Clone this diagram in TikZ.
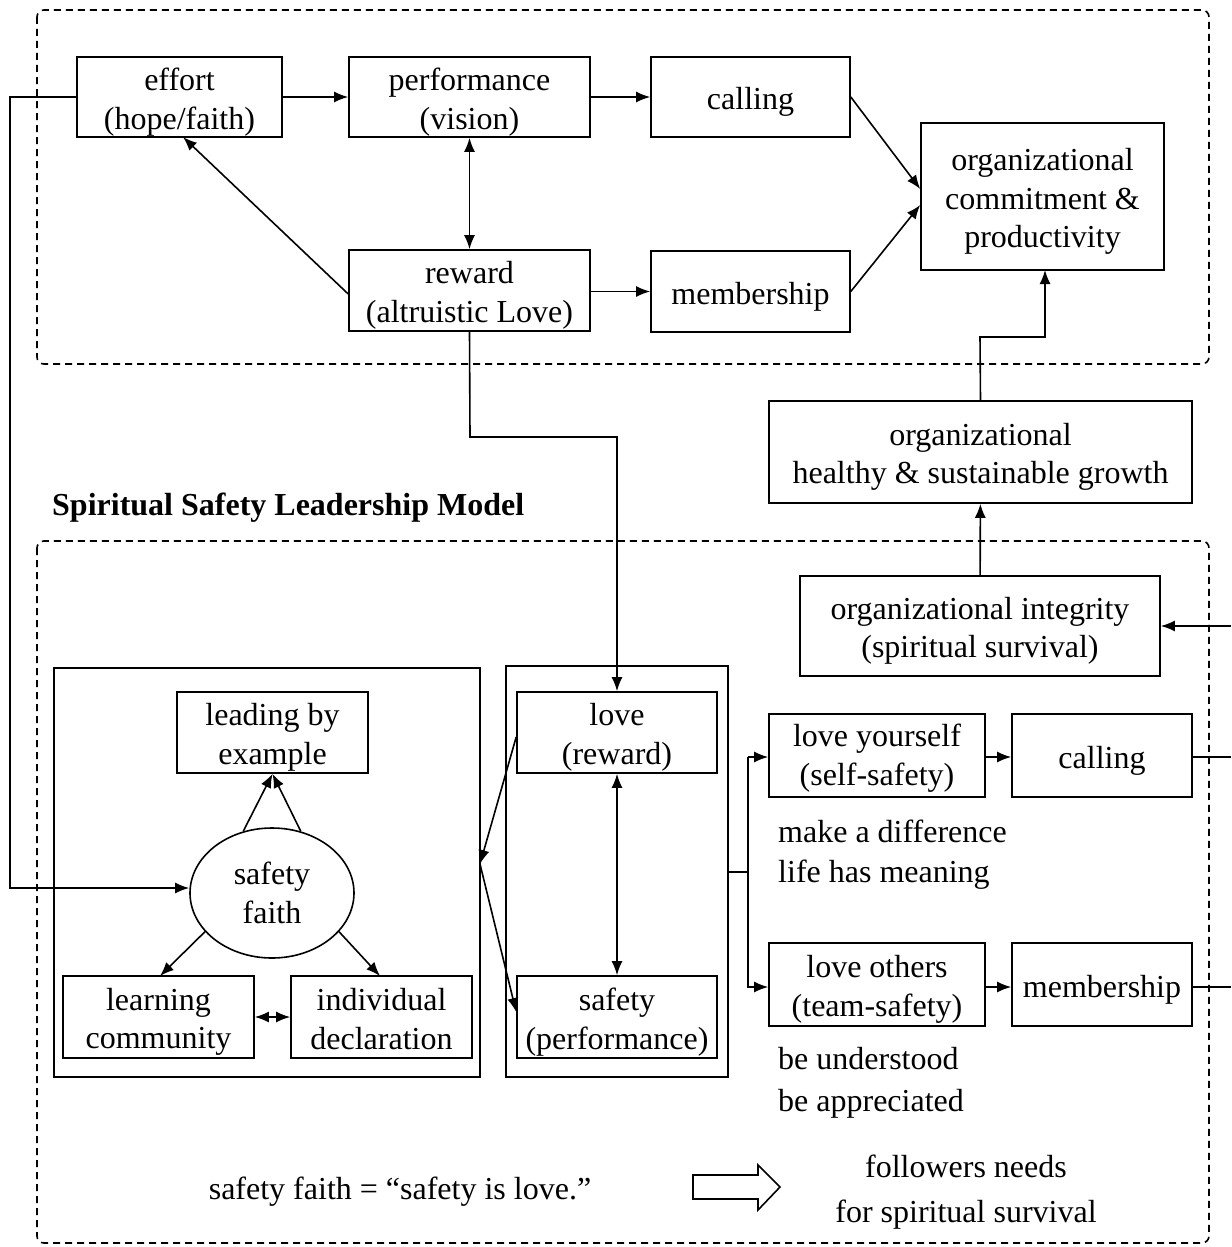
\documentclass[tikz,border=0pt]{standalone}
\usepackage{fontspec}
\setmainfont{Liberation Serif}
\usetikzlibrary{arrows.meta,shapes.geometric}
\begin{document}
\begin{tikzpicture}[x=1pt,y=-1pt,
  font=\fontsize{32}{38.5}\selectfont,
  box/.style={draw,line width=1.6pt,inner sep=0pt},
  boxtext/.style={align=center,inner sep=0pt,yshift=-5pt},
  frame/.style={draw,line width=1.6pt},
  grp/.style={draw,line width=1.6pt,dash pattern=on 7pt off 5pt,rounded corners=7pt},
  link/.style={line width=1.6pt,-{Latex[length=14pt,width=11pt]}},
  dlink/.style={line width=1.6pt,{Latex[length=14pt,width=11pt]}-{Latex[length=14pt,width=11pt]}},
  plain/.style={line width=1.6pt},
  note/.style={inner sep=0pt,anchor=west}]
\useasboundingbox (0,0) rectangle (1231,1247);

% dashed groupings
\draw[grp] (37,10) rectangle (1209,364);
\draw[grp] (37,541) rectangle (1209,1243);

% upper model
\node[box,minimum width=205pt,minimum height=80pt,label={[boxtext]center:{effort\\(hope/faith)}}] (effort) at (179.5,97) {};
\node[box,minimum width=241pt,minimum height=80pt,label={[boxtext]center:{performance\\(vision)}}] (perf) at (469.5,97) {};
\node[box,minimum width=199pt,minimum height=80pt,label={[boxtext]center:{calling}}] (calling) at (750.5,97) {};
\node[box,minimum width=243pt,minimum height=147pt,label={[boxtext]center:{organizational\\commitment \&\\productivity}}] (org) at (1042.5,196.5) {};
\node[box,minimum width=241pt,minimum height=81pt,label={[boxtext]center:{reward\\(altruistic Love)}}] (reward) at (469.5,290.5) {};
\node[box,minimum width=199pt,minimum height=81pt,label={[boxtext]center:{membership}}] (member) at (750.5,291.5) {};

\draw[link] (effort) -- (perf);
\draw[link] (perf) -- (calling);
\draw[link] (reward.east |- member) -- (member);
\draw[dlink] (perf) -- (reward);
\draw[link] (calling.east) -- (org.west |- 0,189);
\draw[link] (member.east) -- (org.west |- 0,205);
\draw[link] (reward.west |- 0,294) -- (183,137);

% growth chain
\node[box,minimum width=423pt,minimum height=102pt,label={[boxtext]center:{organizational\\healthy \& sustainable growth}}] (growth) at (980.5,452) {};
\node[box,minimum width=360pt,minimum height=100pt,label={[boxtext]center:{organizational integrity\\(spiritual survival)}}] (integ) at (980,626) {};
\draw[link] (integ) -- (growth);
\draw[link] (growth.north) -- (980,337) -- (1045,337) -- (1045,270);

\node[font=\bfseries\fontsize{32}{38.5}\selectfont,anchor=west,inner sep=0pt] (title) at (52,508) {Spiritual Safety Leadership Model};

% safety faith cluster
\node[frame,minimum width=426pt,minimum height=409pt,inner sep=0pt] (left) at (267,872.5) {};
\node[box,minimum width=191pt,minimum height=81pt,label={[boxtext]center:{leading by\\example}}] (lead) at (272.5,732.5) {};
\node[draw,ellipse,line width=1.6pt,minimum width=164pt,minimum height=130pt,inner sep=0pt,align=center] (faith) at (272,893) {safety\\faith};
\node[box,minimum width=191pt,minimum height=82pt,label={[boxtext]center:{learning\\community}}] (learn) at (158.5,1017) {};
\node[box,minimum width=181pt,minimum height=82pt,label={[boxtext,yshift=3pt]center:{individual\\declaration}}] (indiv) at (381.5,1017) {};

\draw[link] (faith.115) -- (lead.south);
\draw[link] (faith.65) -- (lead.south);
\draw[link] (faith.210) -- (160,976);
\draw[link] (faith.330) -- (380,976);
\draw[dlink] (learn) -- (indiv);

% love / safety cluster
\node[frame,minimum width=222pt,minimum height=411pt,inner sep=0pt] (mid) at (617,871.5) {};
\node[box,minimum width=200pt,minimum height=81pt,label={[boxtext]center:{love\\(reward)}}] (love) at (617,732.5) {};
\node[box,minimum width=200pt,minimum height=82pt,label={[boxtext]center:{safety\\(performance)}}] (safety) at (617,1017) {};
\draw[dlink] (love) -- (safety);

\coordinate (mid-in) at (480,864);
\draw[link] (love.west |- 0,737) -- (mid-in);
\draw[link] (mid-in) -- (safety.west |- 0,1012);

% link from reward into love
\draw[link] (reward.south) -- (470,437) -- (617,437) -- (love.north);

% feedback from effort into safety faith
\draw[link] (effort.west) -- (10,97) -- (10,888) -- (faith.west |- 0,888);

% followers' needs
\node[box,minimum width=216pt,minimum height=83pt,label={[boxtext,yshift=2.5pt]center:{love yourself\\(self-safety)}}] (self) at (877,755.5) {};
\node[box,minimum width=180pt,minimum height=83pt,label={[boxtext]center:{calling}}] (calling2) at (1102,755.5) {};
\node[box,minimum width=216pt,minimum height=83pt,label={[boxtext]center:{love others\\(team-safety)}}] (others) at (877,984.5) {};
\node[box,minimum width=180pt,minimum height=83pt,label={[boxtext]center:{membership}}] (member2) at (1102,984.5) {};

\coordinate (split) at (748,872);
\draw[plain] (mid.east |- split) -- (split);
\draw[link] (748,757) -- (self.west |- 0,757);
\draw[link] (748,757) -- (748,987) -- (others.west |- 0,987);
\draw[link] (self.east |- 0,757) -- (calling2.west |- 0,757);
\draw[link] (others.east |- 0,987) -- (member2.west |- 0,987);

\coordinate (edge1) at (1231,757);
\coordinate (edge2) at (1231,987);
\coordinate (edge3) at (1231,626);
\draw[plain] (calling2.east |- edge1) -- (edge1);
\draw[plain] (member2.east |- edge2) -- (edge2);
\draw[link] (edge3) -- (integ.east |- edge3);

\node[note] (n1) at (778,831) {make a difference};
\node[note] (n2) at (778,875) {life has meaning};
\node[note] (n3) at (778,1059) {be understood};
\node[note] (n4) at (778,1104) {be appreciated};

% legend
\node[inner sep=0pt] (eq) at (400,1192) {safety faith = “safety is love.”};
\draw[line width=1.6pt,line join=miter] (693,1175) -- (758,1175) -- (758,1165) -- (780,1187) -- (758,1210) -- (758,1199) -- (693,1199) -- cycle;
\node[inner sep=0pt,align=center,font=\fontsize{32}{45}\selectfont] (needs) at (966,1192) {followers needs\\for spiritual survival};
\end{tikzpicture}
\end{document}
